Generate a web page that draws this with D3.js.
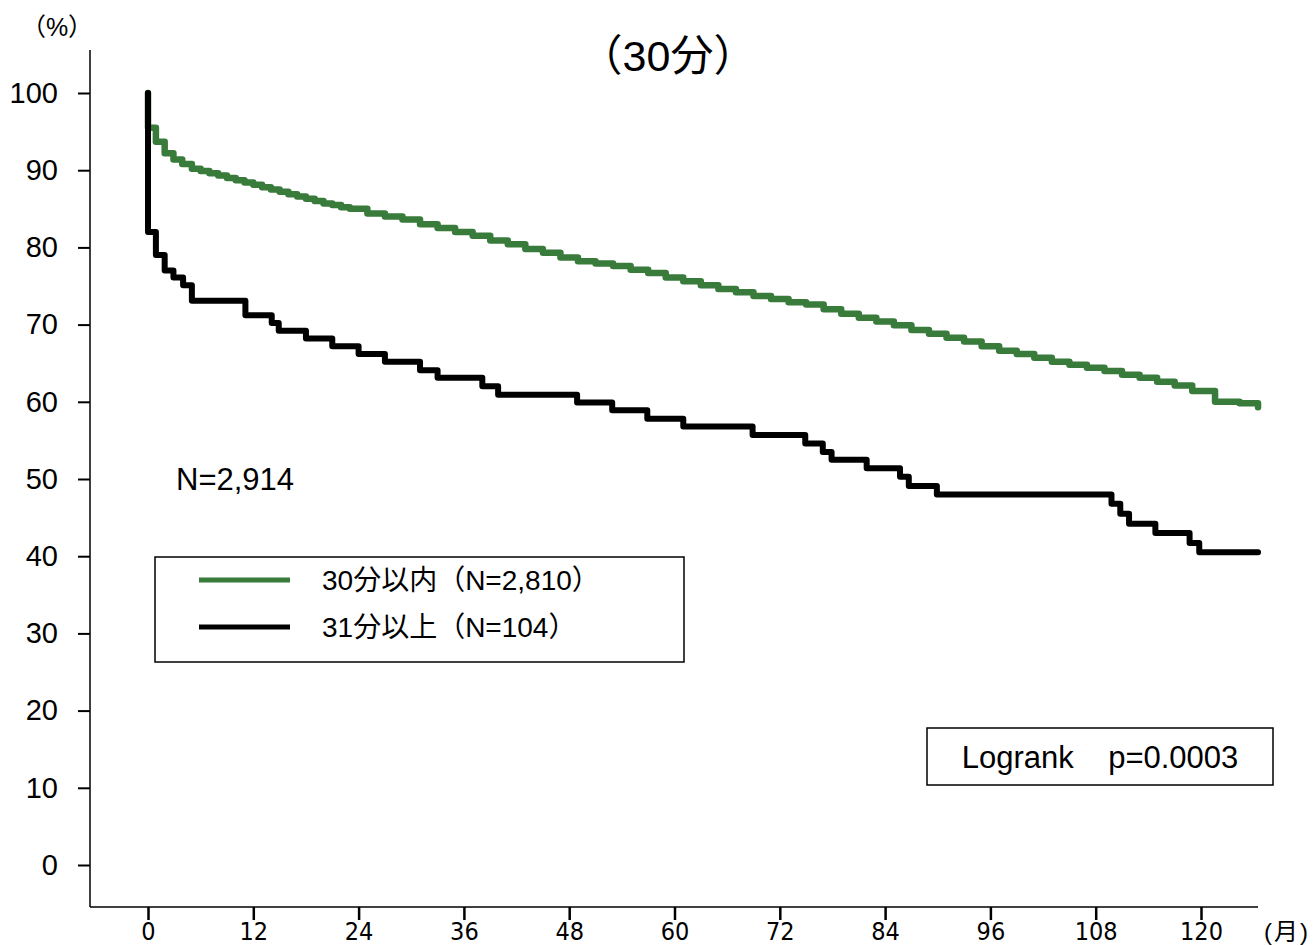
<!DOCTYPE html>
<html>
<head>
<meta charset="utf-8">
<script src="https://cdn.jsdelivr.net/npm/d3@7"></script>
<style>
  body { margin: 0; background: #fff; }
  svg { display: block; }
  .jp { font-family: "Liberation Sans", Arial, "Noto Sans CJK JP", sans-serif; }
</style>
</head>
<body>
<div id="chart"></div>
<script>
// months / survival (%)
const blackMonths = [0, 0, 0.9, 1.9, 2.9, 4.0, 5.0, 11.1, 14.1, 14.9, 18.0, 21.0, 24.0, 27.0, 31.0, 33.0,
  38.1, 39.9, 48.9, 52.9, 56.9, 61.0, 68.9, 74.9, 76.9, 77.9, 81.9, 85.7, 86.7, 89.9,
  109.8, 110.8, 111.8, 114.8, 118.7, 119.8, 126.5];
const blackValues = [100, 82.0, 79.0, 77.0, 76.1, 75.1, 73.1, 71.2, 70.2, 69.2, 68.2, 67.2, 66.2, 65.2, 64.1, 63.1,
  62.0, 60.9, 59.9, 58.9, 57.8, 56.8, 55.7, 54.6, 53.5, 52.5, 51.4, 50.3, 49.1, 48.0,
  46.8, 45.5, 44.2, 43.0, 41.7, 40.5, 40.5];

const greenMonths = [0, 0, 0.9, 1.9, 2.9, 3.9, 5, 6, 7, 8, 9, 10, 11, 12, 13, 14, 15, 16, 17, 18, 19, 20, 21, 22, 23,
  25, 27, 29, 31, 33, 35, 37, 39,
  41, 43, 45, 47, 49, 51, 53, 55, 57, 59, 61, 63, 65, 67, 69, 71, 73, 75, 77, 79, 81, 83, 85, 87, 89,
  91, 93, 95, 97, 99, 101, 103, 105, 107, 109, 111, 113, 115, 117, 119, 121.6, 124.4, 126.5];
const greenValues = [100, 95.5, 93.7, 92.2, 91.4, 90.8, 90.2, 89.9, 89.6, 89.3, 89.0, 88.7, 88.4, 88.1, 87.8, 87.5,
  87.2, 86.9, 86.6, 86.3, 86.0, 85.7, 85.5, 85.2, 85.0,
  84.4, 84.0, 83.6, 83.0, 82.5, 82.0, 81.5, 80.9, 80.4, 79.8, 79.3, 78.7, 78.2, 77.9, 77.6, 77.1, 76.7,
  76.1, 75.6, 75.1, 74.6, 74.2, 73.7, 73.3, 72.9, 72.6, 72.0, 71.4, 70.9, 70.4, 69.9, 69.3, 68.8,
  68.3, 67.8, 67.2, 66.6, 66.2, 65.7, 65.2, 64.8, 64.4, 64.0, 63.5, 63.1, 62.6, 62.1, 61.4, 60.0, 59.8, 59.3];

const xTicks = [0, 12, 24, 36, 48, 60, 72, 84, 96, 108, 120];
const yTicks = [0, 10, 20, 30, 40, 50, 60, 70, 80, 90, 100];

const legendLabels = ["30分以内（N=2,810）", "31分以上（N=104）"];
const seriesColors = ["#387b3b", "#000000"];

const width = 1314, height = 946;

const svg = d3.select("#chart").append("svg")
    .attr("width", width)
    .attr("height", height);

const x = d3.scaleLinear().domain([0, 120]).range([148, 1201]);
const y = d3.scaleLinear().domain([0, 100]).range([865, 93]);

// axis lines
const axisY0 = 907, axisX0 = 90;
svg.append("line")
    .attr("x1", axisX0).attr("x2", axisX0)
    .attr("y1", 50).attr("y2", axisY0)
    .attr("stroke", "#000").attr("stroke-width", 1.5);
svg.append("line")
    .attr("x1", axisX0).attr("x2", 1258)
    .attr("y1", axisY0).attr("y2", axisY0)
    .attr("stroke", "#000").attr("stroke-width", 1.5);

// y axis
const yAxis = svg.append("g")
    .attr("transform", "translate(" + axisX0 + ",0)")
    .call(d3.axisLeft(y).tickValues(yTicks).tickSize(12).tickPadding(20));
yAxis.select(".domain").remove();
yAxis.selectAll("line").attr("stroke-width", 2);
yAxis.selectAll("text")
    .attr("font-family", "Liberation Sans, Arial, sans-serif")
    .attr("font-size", 29)
    .attr("fill", "#000");

// x axis
const xAxis = svg.append("g")
    .attr("transform", "translate(0," + axisY0 + ")")
    .call(d3.axisBottom(x).tickValues(xTicks).tickSize(13).tickPadding(0));
xAxis.select(".domain").remove();
xAxis.selectAll("line").attr("stroke-width", 2.5);
xAxis.selectAll("text")
    .attr("font-family", "Liberation Sans Narrow, DejaVu Sans Condensed, sans-serif")
    .attr("font-size", 25)
    .attr("dy", "0.8em")
    .attr("fill", "#000");

// unit labels and title
svg.append("text").attr("class", "jp")
    .attr("x", 57).attr("y", 36)
    .attr("text-anchor", "middle")
    .attr("font-size", 25)
    .text("（%）");
svg.append("text").attr("class", "jp")
    .attr("x", 1287).attr("y", 940)
    .attr("text-anchor", "middle")
    .attr("font-size", 24)
    .attr("letter-spacing", 2)
    .text("(月)");
svg.append("text").attr("class", "jp")
    .attr("x", 668).attr("y", 71)
    .attr("text-anchor", "middle")
    .attr("font-size", 43)
    .text("（30分）");

// survival curves
const line = d3.line()
    .x(d => x(d[0]))
    .y(d => y(d[1]))
    .curve(d3.curveStepAfter);

const greenData = greenMonths.map((m, i) => [m, greenValues[i]]);
const blackData = blackMonths.map((m, i) => [m, blackValues[i]]);

svg.append("path")
    .datum(greenData)
    .attr("d", line)
    .attr("fill", "none")
    .attr("stroke", seriesColors[0])
    .attr("stroke-width", 6.5)
    .attr("stroke-linejoin", "round")
    .attr("stroke-linecap", "round");

svg.append("path")
    .datum(blackData)
    .attr("d", line)
    .attr("fill", "none")
    .attr("stroke", seriesColors[1])
    .attr("stroke-width", 6)
    .attr("stroke-linejoin", "round")
    .attr("stroke-linecap", "round");

// N label
svg.append("text").attr("class", "jp")
    .attr("x", 176).attr("y", 490)
    .attr("font-size", 31)
    .text("N=2,914");

// legend
const legend = svg.append("g").attr("transform", "translate(155,557)");
legend.append("rect")
    .attr("width", 529).attr("height", 105)
    .attr("fill", "#fff").attr("stroke", "#000").attr("stroke-width", 1.5);
legendLabels.forEach((lab, i) => {
    const ly = 23 + i * 47;
    legend.append("line")
        .attr("x1", 44).attr("x2", 135)
        .attr("y1", ly).attr("y2", ly)
        .attr("stroke", seriesColors[i]).attr("stroke-width", 5);
    legend.append("text").attr("class", "jp")
        .attr("x", 167).attr("y", ly + 10)
        .attr("font-size", 28)
        .text(lab);
});

// logrank box
const lr = svg.append("g").attr("transform", "translate(927,728)");
lr.append("rect")
    .attr("width", 346).attr("height", 57)
    .attr("fill", "#fff").attr("stroke", "#000").attr("stroke-width", 1.5);
lr.append("text").attr("class", "jp")
    .attr("x", 173).attr("y", 40)
    .attr("text-anchor", "middle")
    .attr("font-size", 31)
    .attr("xml:space", "preserve")
    .style("white-space", "pre")
    .text("Logrank    p=0.0003");
</script>
</body>
</html>
